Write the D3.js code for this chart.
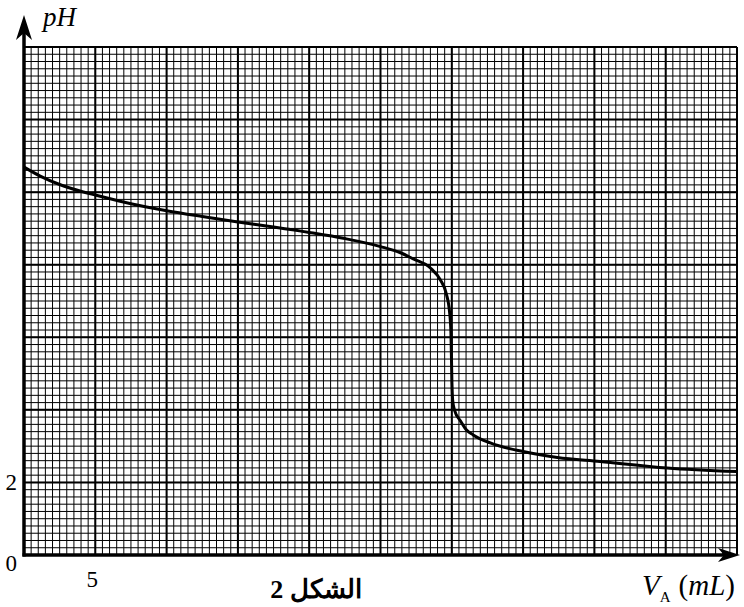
<!DOCTYPE html>
<html>
<head>
<meta charset="utf-8">
<script src="https://cdn.jsdelivr.net/npm/d3@7"></script>
<style>
  body { margin: 0; background: #fff; }
  svg { display: block; }
  text { font-family: "Liberation Serif", "DejaVu Serif", serif; fill: #000; }
</style>
</head>
<body>
<svg width="744" height="607"></svg>
<script>
// titration curve
const volume = [0, 1.1, 2.5, 4.1, 5, 7.5, 10, 12.5, 15, 17.5, 20, 22.5, 25, 26.4, 27.3, 28.5, 29.2, 29.6, 29.85, 29.94, 30.01, 30.06, 30.2, 30.6, 31.0, 31.5, 32.7, 35, 37.4, 40.4, 45.1, 50];
const pH = [10.69, 10.45, 10.21, 10.01, 9.92, 9.68, 9.49, 9.33, 9.18, 9.04, 8.89, 8.72, 8.50, 8.33, 8.16, 7.91, 7.58, 7.22, 6.67, 6.12, 4.74, 4.27, 3.98, 3.70, 3.46, 3.31, 3.09, 2.85, 2.69, 2.58, 2.40, 2.30];

const xDomain = [0, 50];
const yDomain = [0, 14];
const xMinorStep = 0.5, xMajorStep = 5;
const yMinorStep = 0.2, yMajorStep = 2;
const xTickLabels = [5];
const yTickLabels = [0, 2];

const svg = d3.select('svg');

const x = d3.scaleLinear().domain(xDomain).range([24, 737]);
const y = d3.scaleLinear().domain(yDomain).range([555, 47]);

const g = svg.append('g');

// graph paper
const xMinor = d3.range(xDomain[0], xDomain[1] + 1e-9, xMinorStep);
const yMinor = d3.range(yDomain[0], yDomain[1] + 1e-9, yMinorStep);

g.selectAll('line.vminor')
	.data(xMinor)
	.enter()
	.append('line')
	.attr('x1', d => x(d)).attr('x2', d => x(d))
	.attr('y1', y(0)).attr('y2', y(14))
	.attr('stroke', '#000')
	.attr('stroke-width', 1);

g.selectAll('line.hminor')
	.data(yMinor)
	.enter()
	.append('line')
	.attr('x1', x(0)).attr('x2', x(50))
	.attr('y1', d => y(d)).attr('y2', d => y(d))
	.attr('stroke', '#000')
	.attr('stroke-width', 1);

g.selectAll('line.vmajor')
	.data(d3.range(xDomain[0], xDomain[1] + 1e-9, xMajorStep))
	.enter()
	.append('line')
	.attr('x1', d => x(d)).attr('x2', d => x(d))
	.attr('y1', y(0)).attr('y2', y(14))
	.attr('stroke', '#000')
	.attr('stroke-width', 2);

g.selectAll('line.hmajor')
	.data(d3.range(yDomain[0], yDomain[1] + 1e-9, yMajorStep))
	.enter()
	.append('line')
	.attr('x1', x(0)).attr('x2', x(50))
	.attr('y1', d => y(d)).attr('y2', d => y(d))
	.attr('stroke', '#000')
	.attr('stroke-width', 2);

// curve
const line = d3.line()
	.x((d, i) => x(volume[i]))
	.y(d => y(d))
	.curve(d3.curveMonotoneX);

g.append('path')
	.attr('d', line(pH))
	.attr('fill', 'none')
	.attr('stroke', '#000')
	.attr('stroke-width', 3)
	.attr('stroke-linejoin', 'round');

// axes with arrows
g.append('line')
	.attr('x1', x(0)).attr('x2', x(0))
	.attr('y1', y(0) + 1.5).attr('y2', 22)
	.attr('stroke', '#000').attr('stroke-width', 3.5);
g.append('path')
	.attr('d', `M${x(0)},15 L${x(0) + 8},40 L${x(0)},33 L${x(0) - 8},40 Z`)
	.attr('fill', '#000');

g.append('line')
	.attr('x1', x(0) - 1.5).attr('x2', 732)
	.attr('y1', y(0)).attr('y2', y(0))
	.attr('stroke', '#000').attr('stroke-width', 3.5);
g.append('path')
	.attr('d', `M740,${y(0)} L718,${y(0) - 7} L724,${y(0)} L718,${y(0) + 7} Z`)
	.attr('fill', '#000');

// labels
svg.selectAll('text.ylab')
	.data(yTickLabels)
	.enter()
	.append('text')
	.attr('x', 17)
	.attr('y', d => y(d) + (d === 0 ? 16 : 8))
	.attr('text-anchor', 'end')
	.attr('font-size', 23)
	.text(d => d);

svg.selectAll('text.xlab')
	.data(xTickLabels)
	.enter()
	.append('text')
	.attr('x', d => x(d) - 3)
	.attr('y', 587)
	.attr('text-anchor', 'middle')
	.attr('font-size', 23)
	.text(d => d);

svg.append('text')
	.attr('x', 43)
	.attr('y', 26)
	.attr('font-size', 27)
	.attr('font-style', 'italic')
	.text('pH');

const vl = svg.append('text')
	.attr('x', 642)
	.attr('y', 595)
	.attr('font-size', 29);
vl.append('tspan').attr('font-style', 'italic').text('V');
vl.append('tspan').attr('font-size', 15).attr('dy', 7).text('A');
vl.append('tspan').attr('dy', -7).attr('dx', 8).text('(');
vl.append('tspan').attr('font-style', 'italic').text('mL');
vl.append('tspan').text(')');

svg.append('text')
	.attr('x', 316)
	.attr('y', 598)
	.attr('text-anchor', 'middle')
	.attr('direction', 'rtl')
	.attr('font-size', 26)
	.attr('font-weight', 'bold')
	.text('الشكل 2');
</script>
</body>
</html>
